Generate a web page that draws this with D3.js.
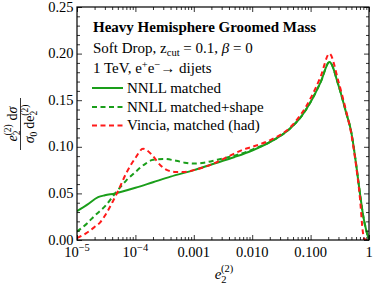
<!DOCTYPE html>
<html>
<head>
<meta charset="utf-8">
<script src="https://cdn.jsdelivr.net/npm/d3@7"></script>
<style>
body{margin:0;background:#fff}
svg{display:block}
text{font-family:"Liberation Serif","Times New Roman",serif;fill:#000}
</style>
</head>
<body>
<svg id="chart" width="374" height="286"></svg>
<script>
// values
const e2Nnll = [1e-5,1.5e-5,2.3e-5,3e-5,4.5e-5,6e-5,1e-4,2e-4,4e-4,1e-3,2e-3,5e-3,0.01,0.02,0.045,0.07,0.1,0.15,0.21,0.3,0.4,0.5,0.6,0.7,0.8,0.9,1];
const nnll   = [0.031,0.038,0.046,0.048,0.050,0.052,0.056,0.062,0.068,0.075,0.081,0.089,0.096,0.105,0.120,0.133,0.148,0.170,0.191,0.166,0.138,0.115,0.082,0.050,0.025,0.010,0.0];

const e2Shape = [1e-5,1.5e-5,2e-5,3e-5,4.5e-5,7e-5,1e-4,1.5e-4,2e-4,3e-4,5e-4,7e-4,1e-3,1.5e-3,2.5e-3,4e-3,6e-3,0.01,0.02,0.045,0.07,0.1,0.15,0.21,0.3,0.4,0.5,0.6,0.7,0.8,0.9,1];
const nnllShape = [0.009,0.018,0.026,0.036,0.050,0.064,0.073,0.082,0.086,0.087,0.085,0.083,0.082,0.083,0.086,0.089,0.092,0.097,0.105,0.120,0.133,0.148,0.170,0.191,0.166,0.138,0.115,0.082,0.050,0.025,0.010,0.0];

const e2Vincia = [1e-5,1.5e-5,2e-5,2.5e-5,3e-5,4e-5,5e-5,7e-5,1e-4,1.35e-4,1.6e-4,2e-4,2.7e-4,3.5e-4,5e-4,7e-4,1e-3,2e-3,4e-3,7e-3,0.01,0.02,0.05,0.1,0.15,0.21,0.3,0.4,0.5,0.6,0.7,0.78,0.82,0.9,1];
const vincia   = [0.002,0.008,0.014,0.019,0.026,0.040,0.052,0.072,0.088,0.098,0.096,0.090,0.080,0.075,0.073,0.073,0.075,0.081,0.090,0.097,0.100,0.107,0.124,0.152,0.176,0.200,0.170,0.140,0.113,0.080,0.045,0.010,0.002,0.0,0.0];

const seriesNames = ["NNLL matched","NNLL matched+shape","Vincia, matched (had)"];
const yTicks = [0,0.05,0.10,0.15,0.20,0.25];
const xTicks = [1e-5,1e-4,1e-3,1e-2,1e-1,1];
const xTickLabels = [["10","−5"],["10","−4"],["0.001"],["0.010"],["0.100"],["1"]];

const green = "#1a9e1a", red = "#ff1a1a";
const styles = [
  {color:green, dash:null},
  {color:green, dash:"5,3.5"},
  {color:red, dash:"5,3.5"}
];

const svg = d3.select("#chart");
const margin = {left:77, right:5, top:7, bottom:46};
const W = 374, H = 286;

const x = d3.scaleLog().domain([1e-5,1]).range([margin.left, W-margin.right]);
const y = d3.scaleLinear().domain([0,0.25]).range([H-margin.bottom, margin.top]);

svg.append("clipPath").attr("id","clip").append("rect")
  .attr("x",margin.left).attr("y",margin.top)
  .attr("width",W-margin.left-margin.right).attr("height",H-margin.top-margin.bottom);

const line = d3.line().x(d => x(d[0])).y(d => y(d[1])).curve(d3.curveMonotoneX);
const data = [
  d3.zip(e2Nnll, nnll),
  d3.zip(e2Shape, nnllShape),
  d3.zip(e2Vincia, vincia)
];
const plot = svg.append("g").attr("clip-path","url(#clip)");
data.forEach((d,i) => {
  plot.append("path").attr("d", line(d))
    .attr("fill","none").attr("stroke",styles[i].color)
    .attr("stroke-width",2)
    .attr("stroke-dasharray",styles[i].dash);
});

// minor ticks
const xMinor = [];
for (let p=-5; p<0; p++) for (let k=2; k<10; k++) xMinor.push(k*Math.pow(10,p));
const yMinor = d3.range(0,0.2501,0.01).filter(v => Math.round(v*100)%5 !== 0);

function frameAxis(axis, tr, vals, size){
  const g = svg.append("g").attr("transform",tr)
    .call(axis.tickValues(vals).tickSize(size).tickFormat(""));
  g.select(".domain").remove();
  g.selectAll("line").attr("stroke","#000").attr("stroke-width",0.8);
  return g;
}
const yBot = H-margin.bottom, yTop = margin.top, xLft = margin.left, xRgt = W-margin.right;
frameAxis(d3.axisBottom(x), `translate(0,${yBot})`, xTicks, -5);
frameAxis(d3.axisBottom(x), `translate(0,${yBot})`, xMinor, -3);
frameAxis(d3.axisTop(x), `translate(0,${yTop})`, xTicks, -5);
frameAxis(d3.axisTop(x), `translate(0,${yTop})`, xMinor, -3);
frameAxis(d3.axisLeft(y), `translate(${xLft},0)`, yTicks, -5);
frameAxis(d3.axisLeft(y), `translate(${xLft},0)`, yMinor, -3);
frameAxis(d3.axisRight(y), `translate(${xRgt},0)`, yTicks, -5);
frameAxis(d3.axisRight(y), `translate(${xRgt},0)`, yMinor, -3);

svg.append("rect").attr("x",xLft).attr("y",yTop).attr("width",xRgt-xLft).attr("height",yBot-yTop)
  .attr("fill","none").attr("stroke","#000").attr("stroke-width",1.2);

// tick labels
svg.append("g").selectAll("text").data(yTicks).join("text")
  .attr("x",xLft-3.5).attr("y",d => y(d)+4.5)
  .attr("text-anchor","end").attr("font-size",14.5)
  .text(d => d.toFixed(2));

const xl = svg.append("g").selectAll("text").data(xTicks).join("text")
  .attr("x",d => x(d)).attr("y",yBot+17)
  .attr("text-anchor","middle").attr("font-size",14.5);
xl.each(function(d,i){
  const t = d3.select(this), lab = xTickLabels[i];
  t.append("tspan").text(lab[0]);
  if (lab[1]) t.append("tspan").attr("dy",-6).attr("font-size",10.5).text(lab[1]);
});

// x label
const xt = svg.append("text").attr("x",224).attr("y",279).attr("text-anchor","middle").attr("font-size",15);
xt.append("tspan").attr("font-style","italic").text("e");
xt.append("tspan").attr("font-size",10.5).attr("dy",4).text("2");
xt.append("tspan").attr("font-size",10.5).attr("dx",-5.5).attr("dy",-11).text("(2)");

// y label (fraction)
const yl = svg.append("g").attr("transform","translate(20.5,124) rotate(-90)");
yl.append("line").attr("x1",-26).attr("x2",26).attr("y1",0).attr("y2",0).attr("stroke","#000").attr("stroke-width",0.8);
const num = yl.append("text").attr("x",0).attr("y",-4).attr("text-anchor","middle").attr("font-size",14);
num.append("tspan").attr("font-style","italic").text("e");
num.append("tspan").attr("font-size",9.5).attr("dy",3).text("2");
num.append("tspan").attr("font-size",9.5).attr("dx",-5).attr("dy",-9).text("(2)");
num.append("tspan").attr("dy",6).attr("dx",4).text("d");
num.append("tspan").attr("font-style","italic").text("σ");
const den = yl.append("text").attr("x",0).attr("y",13.5).attr("text-anchor","middle").attr("font-size",14);
den.append("tspan").attr("font-style","italic").text("σ");
den.append("tspan").attr("font-size",9.5).attr("dy",3).text("0");
den.append("tspan").attr("dy",-3).attr("dx",3).text("de");
den.append("tspan").attr("font-size",9.5).attr("dy",3).text("2");
den.append("tspan").attr("font-size",9.5).attr("dx",-5).attr("dy",-9).text("(2)");

// annotation block
const tx = 93, fs = 15;
svg.append("text").attr("x",tx).attr("y",32).attr("font-size",fs).attr("font-weight","bold")
  .text("Heavy Hemisphere Groomed Mass");
const l2 = svg.append("text").attr("x",tx).attr("y",53).attr("font-size",fs);
l2.append("tspan").text("Soft Drop, z");
l2.append("tspan").attr("font-size",10.5).attr("dy",3).text("cut");
l2.append("tspan").attr("dy",-3).text(" = 0.1, ");
l2.append("tspan").attr("font-style","italic").text("β");
l2.append("tspan").text(" = 0");
const l3 = svg.append("text").attr("x",tx).attr("y",72.5).attr("font-size",fs);
l3.append("tspan").text("1 TeV, e");
l3.append("tspan").attr("font-size",10.5).attr("dy",-5).text("+");
l3.append("tspan").attr("dy",5).text("e");
l3.append("tspan").attr("font-size",10.5).attr("dy",-5).text("−");
l3.append("tspan").attr("dy",5).text("→ dijets");

const legY = [88,107,125.5];
const leg = svg.append("g").selectAll("g").data(seriesNames).join("g")
  .attr("transform",(d,i) => `translate(${tx-1},${legY[i]})`);
leg.append("line").attr("x1",0).attr("x2",31).attr("y1",0).attr("y2",0)
  .attr("stroke",(d,i) => styles[i].color).attr("stroke-width",2)
  .attr("stroke-dasharray",(d,i) => styles[i].dash);
leg.append("text").attr("x",35).attr("y",4.5).attr("font-size",fs).text(d => d);
</script>
</body>
</html>
